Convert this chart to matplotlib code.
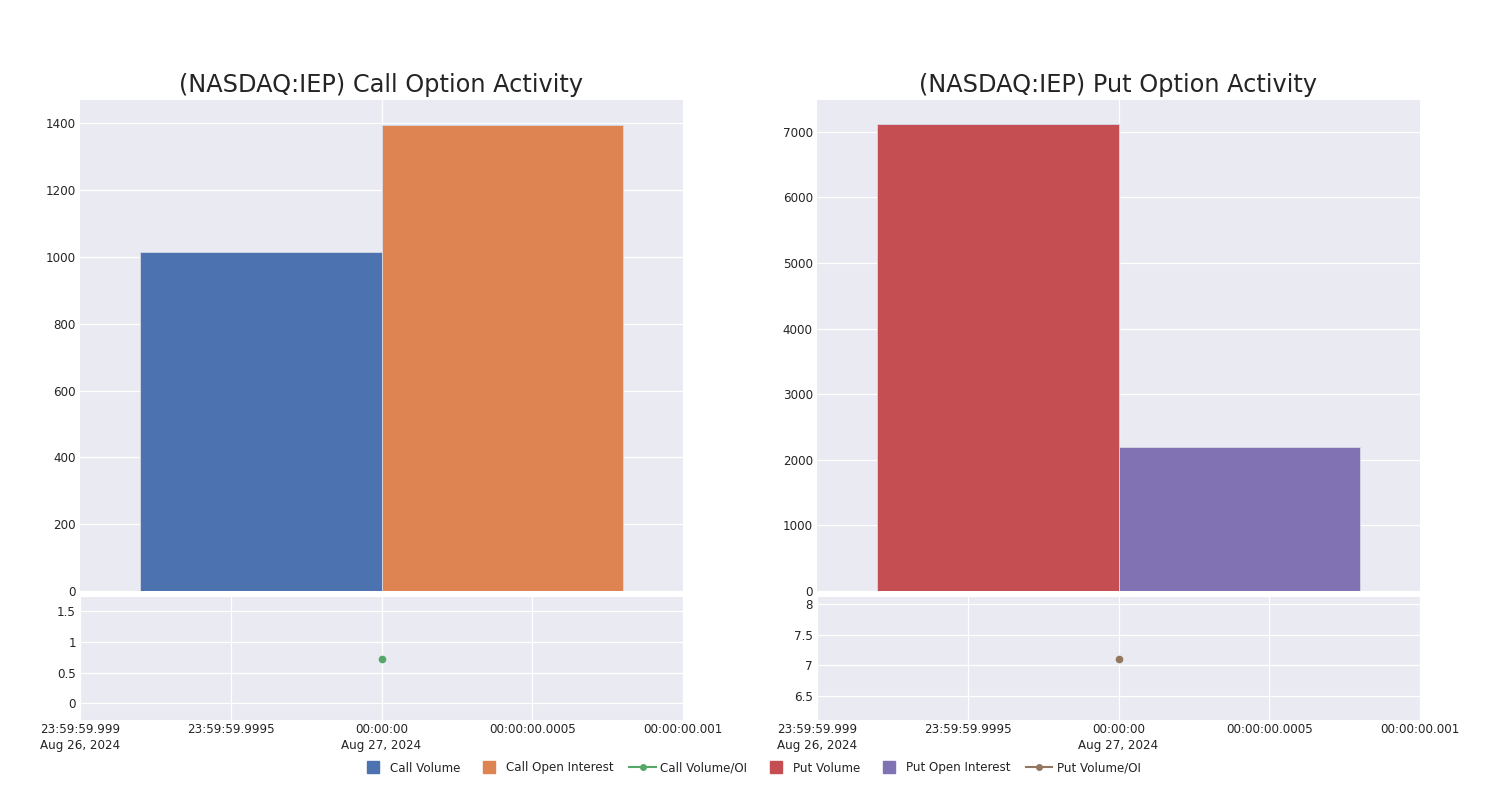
import matplotlib
matplotlib.use("Agg")
import matplotlib.pyplot as plt
from matplotlib.lines import Line2D

# values
ticker = "(NASDAQ:IEP)"
call_volume = [1014]
call_open_interest = [1396]
call_ratio = [0.73]
put_volume = [7113]
put_open_interest = [2189]
put_ratio = [7.1]

# x axis is a date axis around midnight, in milliseconds
x_pos = [0.0]
x_ticks = [-1.0, -0.5, 0.0, 0.5, 1.0]
x_tick_labels = ["23:59:59.999\nAug 26, 2024", "23:59:59.9995", "00:00:00\nAug 27, 2024",
                 "00:00:00.0005", "00:00:00.001"]

call_y_ticks = [0, 200, 400, 600, 800, 1000, 1200, 1400]
put_y_ticks = [0, 1000, 2000, 3000, 4000, 5000, 6000, 7000]
call_ratio_ticks = [0, 0.5, 1, 1.5]
call_ratio_labels = ["0", "0.5", "1", "1.5"]
put_ratio_ticks = [6.5, 7, 7.5, 8]
put_ratio_labels = ["6.5", "7", "7.5", "8"]

colors = {
    "call_vol": "#4C72B0",
    "call_oi": "#DD8452",
    "call_ratio": "#55A868",
    "put_vol": "#C44E52",
    "put_oi": "#8172B3",
    "put_ratio": "#937860",
}

BG = "#EAEAF2"
TXT = "#242424"
plt.rcParams["font.family"] = ["DejaVu Sans"]

fig = plt.figure(figsize=(15, 8), dpi=100)


def style(ax):
    ax.set_facecolor(BG)
    for s in ax.spines.values():
        s.set_visible(False)
    ax.grid(True, color="white", linewidth=0.9)
    ax.set_axisbelow(True)
    ax.tick_params(length=0, labelsize=8.6, labelcolor=TXT, pad=3)


def panel(x0, vol, oi, ratio, c_vol, c_oi, c_ratio, yticks, ylim, rticks, rlabels, rlim, title):
    ax = fig.add_axes([x0, 1 - 591 / 800, 603 / 1500, 491 / 800])
    style(ax)
    ax.bar([x - 0.4 for x in x_pos], vol, width=0.8, color=c_vol, edgecolor="#D8D8E4", linewidth=0.6)
    ax.bar([x + 0.4 for x in x_pos], oi, width=0.8, color=c_oi, edgecolor="#D8D8E4", linewidth=0.6)
    ax.set_xlim(-1, 1)
    ax.set_xticks([0])
    ax.set_xticklabels([])
    ax.set_yticks(yticks)
    ax.set_ylim(*ylim)
    ax.set_title(title, fontsize=17.3, color=TXT, pad=6)

    ax2 = fig.add_axes([x0, 1 - 720 / 800, 603 / 1500, 123 / 800])
    style(ax2)
    ax2.plot(x_pos, ratio, color=c_ratio, marker="o", markersize=4.5, linewidth=1.5)
    ax2.set_xlim(-1, 1)
    ax2.set_xticks(x_ticks)
    ax2.set_xticklabels(x_tick_labels, linespacing=1.35)
    ax2.set_yticks(rticks)
    ax2.set_yticklabels(rlabels)
    ax2.set_ylim(*rlim)
    ax2.tick_params(axis="x", pad=2)
    return ax, ax2


panel(80 / 1500, call_volume, call_open_interest, call_ratio,
      colors["call_vol"], colors["call_oi"], colors["call_ratio"],
      call_y_ticks, (0, 1470), call_ratio_ticks, call_ratio_labels, (-0.27, 1.73),
      f"{ticker} Call Option Activity")
panel(817 / 1500, put_volume, put_open_interest, put_ratio,
      colors["put_vol"], colors["put_oi"], colors["put_ratio"],
      put_y_ticks, (0, 7485), put_ratio_ticks, put_ratio_labels, (6.11, 8.11),
      f"{ticker} Put Option Activity")


def square(c, label):
    return Line2D([], [], color=c, marker="s", markersize=8.5, linestyle="none", label=label)


handles = [
    square(colors["call_vol"], "Call Volume"),
    square(colors["call_oi"], "Call Open Interest"),
    Line2D([], [], color=colors["call_ratio"], marker="o", markersize=4, linewidth=1.5, label="Call Volume/OI"),
    square(colors["put_vol"], "Put Volume"),
    square(colors["put_oi"], "Put Open Interest"),
    Line2D([], [], color=colors["put_ratio"], marker="o", markersize=4, linewidth=1.5, label="Put Volume/OI"),
]
leg = fig.legend(handles=handles, loc="center", bbox_to_anchor=(0.5, 1 - 768 / 800), ncol=6,
                 frameon=False, fontsize=8.6, handlelength=2.2, handleheight=0.9,
                 columnspacing=1.3, handletextpad=0.35)
for t in leg.get_texts():
    t.set_color(TXT)

fig.savefig("out.png", dpi=100)
